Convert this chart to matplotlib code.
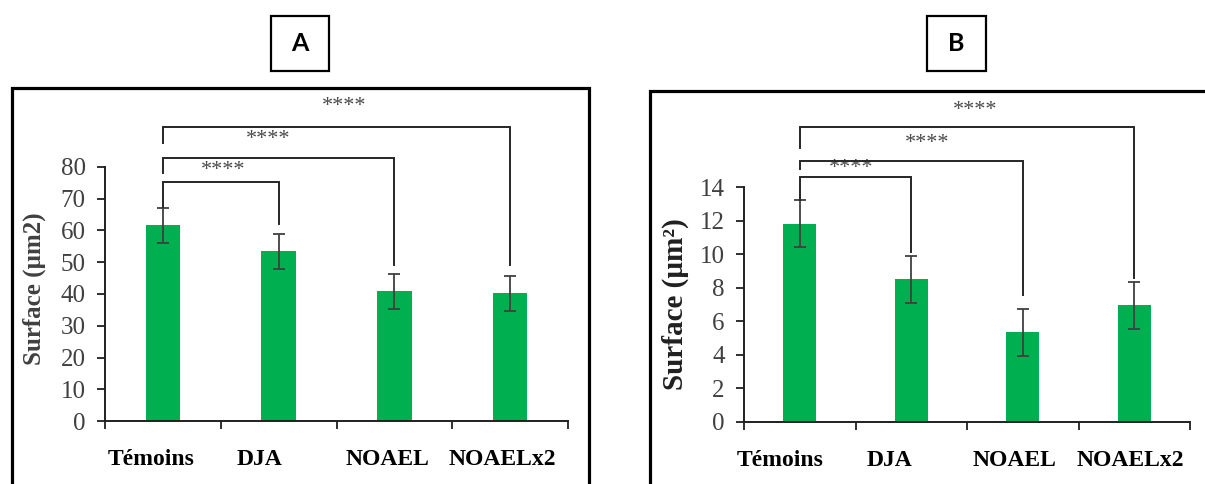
import matplotlib
matplotlib.use('Agg')
import matplotlib.pyplot as plt
import matplotlib.transforms as mtransforms
from matplotlib.patches import Rectangle

GROUPS = ['Témoins', 'DJA', 'NOAEL', 'NOAELx2']

# panel A: surface (µm2), mean and error
MEAN_A = [61.7, 53.5, 40.8, 40.2]
ERR_A = [5.5, 5.5, 5.5, 5.4]

# panel B: surface (µm²), mean and error
MEAN_B = [11.8, 8.5, 5.35, 6.95]
ERR_B = [1.4, 1.4, 1.4, 1.4]

SIG = '****'
# comparisons against Témoins: (group, bar height, left foot, right foot, stars x, stars y)
BRACKETS_A = [
    (1, 75.3, 67.4, 62.0, 0.52, 79.0),
    (2, 82.8, 78.1, 49.1, 0.91, 88.8),
    (3, 92.6, 87.6, 49.1, 1.57, 98.9),
]
BRACKETS_B = [
    (1, 14.6, 13.2, 10.15, 0.46, 15.1),
    (2, 15.55, 15.1, 7.56, 1.14, 16.6),
    (3, 17.55, 16.3, 8.6, 1.57, 18.55),
]

W, H = 1205, 484
GREEN = '#00B050'
GREY = '#404040'
SERIF = 'Liberation Serif'

# category labels in the source sit a little left of their slots (px)
LABEL_SHIFT_A = [-12, -19, -7, -8]
LABEL_SHIFT_B = [-20, -22, -8, -4]


def px_rect(x0, y0, x1, y1):
    """pixel box (top-left origin) -> figure fraction rect"""
    return [x0 / W, 1 - y1 / H, (x1 - x0) / W, (y1 - y0) / H]


def draw_panel(fig, ax, means, errs, brackets, ymax, step, ylabel, ylabel_size,
               ylabel_color, ylabel_y, shifts):
    x = list(range(len(GROUPS)))
    ax.bar(x, means, width=0.3, color=GREEN, zorder=2)
    ax.errorbar(x, means, yerr=errs, fmt='none', ecolor=GREY, elinewidth=1.3,
                capsize=4.5, capthick=1.3, zorder=3)

    ax.set_xlim(-0.5, len(GROUPS) - 0.5)
    ax.set_ylim(0, ymax)
    ax.set_yticks(range(0, ymax + 1, step))
    ax.set_xticks(x)
    ax.set_xticklabels(GROUPS, fontfamily=SERIF, fontweight='bold', fontsize=17)
    ax.set_xticks([i - 0.5 for i in range(len(GROUPS) + 1)], minor=True)
    ax.tick_params(axis='x', which='major', length=0, pad=20)
    ax.tick_params(axis='x', which='minor', length=6, width=1.3, direction='out', color='#202020')
    ax.tick_params(axis='y', length=6, width=1.3, direction='out', color='#202020',
                   labelsize=18, labelcolor=GREY, pad=8)
    for lab in ax.get_yticklabels():
        lab.set_fontfamily(SERIF)
    for lab, dx in zip(ax.get_xticklabels(), shifts):
        lab.set_transform(lab.get_transform() +
                          mtransforms.ScaledTranslation(dx / 100, 0, fig.dpi_scale_trans))

    for side in ('top', 'right'):
        ax.spines[side].set_visible(False)
    for side in ('left', 'bottom'):
        ax.spines[side].set_linewidth(1.4)
        ax.spines[side].set_color('#202020')

    ax.text(-0.153, ylabel_y, ylabel, transform=ax.transAxes, rotation=90,
            ha='center', va='center', fontfamily=SERIF, fontweight='bold',
            fontsize=ylabel_size, color=ylabel_color)

    for grp, top, foot_l, foot_r, sx, sy in brackets:
        ax.plot([0, 0, grp, grp], [foot_l, top, top, foot_r], color='#262626',
                lw=1.4, clip_on=False, zorder=4, solid_joinstyle='miter')
        ax.text(sx, sy, SIG, ha='center', va='center', fontfamily=SERIF,
                fontsize=16, color='#4a4a4a', clip_on=False)


def main():
    fig = plt.figure(figsize=(W / 100, H / 100), dpi=100)

    # outer frames (bottom / right edges run off the image)
    fig.patches.append(Rectangle((12 / W, -0.2), (589 - 12) / W, 0.2 + 1 - 88 / H,
                                 transform=fig.transFigure, fill=False,
                                 lw=2.3, edgecolor='black'))
    fig.patches.append(Rectangle((650 / W, -0.2), 0.6, 0.2 + 1 - 91 / H,
                                 transform=fig.transFigure, fill=False,
                                 lw=2.3, edgecolor='black'))

    # panel letters in boxes
    for letter, (x0, x1) in (('A', (271, 329)), ('B', (927, 986))):
        r = px_rect(x0, 16, x1, 71)
        fig.patches.append(Rectangle((r[0], r[1]), r[2], r[3], transform=fig.transFigure,
                                     fill=False, lw=1.6, edgecolor='black'))
        fig.text(r[0] + r[2] / 2, r[1] + r[3] / 2, letter, ha='center', va='center',
                 fontfamily='Lato', fontweight='bold', fontsize=18)

    ax_a = fig.add_axes(px_rect(105, 167, 568, 421))
    draw_panel(fig, ax_a, MEAN_A, ERR_A, BRACKETS_A, 80, 10, 'Surface (µm2)', 18,
               GREY, 0.52, LABEL_SHIFT_A)

    ax_b = fig.add_axes(px_rect(744, 187, 1190, 422))
    draw_panel(fig, ax_b, MEAN_B, ERR_B, BRACKETS_B, 14, 2, 'Surface (µm²)', 21,
               '#202020', 0.50, LABEL_SHIFT_B)

    fig.savefig('out.png', dpi=100)


if __name__ == '__main__':
    main()
